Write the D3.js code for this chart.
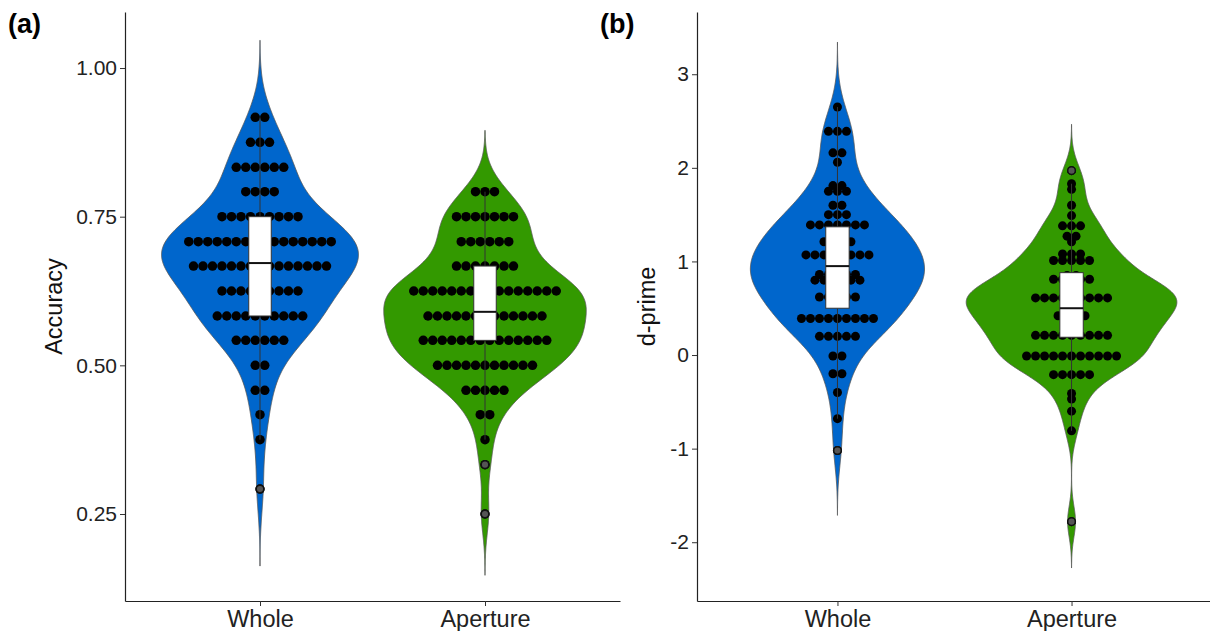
<!DOCTYPE html>
<html>
<head>
<meta charset="utf-8">
<script src="https://cdn.jsdelivr.net/npm/d3@7"></script>
<style>
	body { margin: 0 ; background: #fff ; }
	text { font-family: "Liberation Sans", Arial, sans-serif ; }
</style>
</head>
<body>
<svg class="figure" width="1210" height="631"></svg>
<script>
'use strict' ;

const groups = [ "Whole", "Aperture" ] ;
const fills = [ "#0066CC", "#339900" ] ;

// accuracy: value of each dot row and how many dots sit in it
const accWholeValues = [ 0.917, 0.875, 0.833, 0.792, 0.750, 0.708, 0.667, 0.625, 0.583, 0.542, 0.500, 0.458, 0.417, 0.375, 0.292 ] ;
const accWholeCounts = [ 2, 3, 6, 4, 9, 16, 15, 9, 10, 6, 2, 2, 1, 1, 1 ] ;
const accApertureValues = [ 0.792, 0.750, 0.708, 0.667, 0.625, 0.583, 0.542, 0.500, 0.458, 0.417, 0.375, 0.333, 0.250 ] ;
const accApertureCounts = [ 3, 7, 6, 7, 16, 13, 14, 11, 5, 2, 1, 1, 1 ] ;
// q1, median, q3
const accWholeBox = [ 0.583, 0.672, 0.750 ] ;
const accApertureBox = [ 0.542, 0.590, 0.667 ] ;

// d-prime (the short rows at 0.55-1.30 / 0.29-0.85 are the ones hidden behind the boxes)
const dpWholeValues = [ 2.65, 2.39, 2.16, 2.06, 1.81, 1.75, 1.60, 1.50, 1.39, 1.30, 1.21, 1.14, 1.07, 1.00, 0.95, 0.86, 0.80, 0.72, 0.68, 0.62, 0.55, 0.39, 0.20, -0.01, -0.20, -0.40, -0.68, -1.02 ] ;
const dpWholeCounts = [ 1, 3, 2, 1, 2, 3, 2, 3, 7, 2, 4, 2, 8, 2, 2, 5, 6, 2, 2, 5, 2, 9, 5, 2, 2, 1, 1, 1 ] ;
const dpApertureValues = [ 1.97, 1.83, 1.77, 1.60, 1.49, 1.38, 1.27, 1.21, 1.08, 1.01, 0.85, 0.81, 0.74, 0.70, 0.66, 0.61, 0.55, 0.50, 0.47, 0.42, 0.38, 0.35, 0.29, 0.21, -0.01, -0.21, -0.41, -0.47, -0.60, -0.81, -1.78 ] ;
const dpApertureCounts = [ 1, 1, 1, 1, 1, 3, 2, 1, 3, 5, 2, 5, 2, 2, 2, 9, 2, 2, 2, 4, 2, 2, 2, 9, 11, 5, 1, 1, 1, 1, 1 ] ;
const dpWholeBox = [ 0.50, 0.95, 1.37 ] ;
const dpApertureBox = [ 0.19, 0.50, 0.88 ] ;

const accTicks = [ 0.25, 0.50, 0.75, 1.00 ] ;
const dpTicks = [ -2, -1, 0, 1, 2, 3 ] ;

let geom = {
	top: 12,
	bottom: 601,
	panels: [
		{ tag: "(a)", tagX: 8, title: "Accuracy", titleX: 62, left: 125, right: 620, domain: [ 0.1037, 1.0942 ], dot: 9.5 },
		{ tag: "(b)", tagX: 600, title: "d-prime", titleX: 655, left: 697, right: 1212, domain: [ -2.628, 3.665 ], dot: 9.0 }
	]
} ;

let panelData = [
	{
		ticks: accTicks,
		format: d3.format( ".2f" ),
		series: [
			{ values: accWholeValues, counts: accWholeCounts, box: accWholeBox },
			{ values: accApertureValues, counts: accApertureCounts, box: accApertureBox }
		]
	},
	{
		ticks: dpTicks,
		format: d => String( d ),
		series: [
			{ values: dpWholeValues, counts: dpWholeCounts, box: dpWholeBox },
			{ values: dpApertureValues, counts: dpApertureCounts, box: dpApertureBox }
		]
	}
] ;

// gaussian kernel density, bw.nrd0, tails cut at 3 bandwidths
let kde = function( values ) {
	let sorted = values.slice().sort( d3.ascending ) ;
	let n = sorted.length ;
	let iqr = d3.quantileSorted( sorted, 0.75 ) - d3.quantileSorted( sorted, 0.25 ) ;
	let bw = 0.9 * Math.min( d3.deviation( sorted ), iqr / 1.34 ) * Math.pow( n, -0.2 ) ;
	let lo = sorted[0] - 3 * bw ;
	let hi = sorted[n-1] + 3 * bw ;
	let k = 1 / ( n * bw * Math.sqrt( 2 * Math.PI )) ;
	return d3.range( 512 ).map( i => {
		let y = lo + ( hi - lo ) * i / 511 ;
		return [ y, k * d3.sum( sorted, v => Math.exp( -0.5 * (( y - v ) / bw ) ** 2 )) ] ;
	}) ;
} ;

let svg = d3.select( "svg.figure" ) ;

geom.panels.forEach( ( pg, p ) => {
	let pd = panelData[p] ;
	let x = d3.scalePoint().domain( groups ).range( [ pg.left, pg.right ] ).padding( 0.6 ) ;
	let y = d3.scaleLinear().domain( pg.domain ).range( [ geom.bottom, geom.top ] ) ;
	let step = x.step() ;
	let g = svg.append( "g" ) ;

	// expand rows into single observations
	pd.series.forEach( s => {
		s.all = [] ;
		s.values.forEach( ( v, i ) => { for( let j = 0; j < s.counts[i]; ++j ) s.all.push( v ) ; } ) ;
		s.density = kde( s.all ) ;
	}) ;
	let maxD = d3.max( pd.series, s => d3.max( s.density, d => d[1] )) ;
	let halfW = d3.scaleLinear().domain( [ 0, maxD ] ).range( [ 0, 0.45 * step ] ) ;

	pd.series.forEach( ( s, i ) => {
		let cx = x( groups[i] ) ;
		// violin
		g.append( "path" )
			.datum( s.density )
			.attr( "d", d3.area()
				.y( d => y( d[0] ))
				.x0( d => cx - halfW( d[1] ))
				.x1( d => cx + halfW( d[1] )) )
			.attr( "fill", fills[i] )
			.attr( "stroke", "#555" )
			.attr( "stroke-width", 0.8 ) ;

		// dots, centred in each row
		let dots = [] ;
		s.values.forEach( ( v, r ) => {
			let n = s.counts[r] ;
			for( let j = 0; j < n; ++j ) dots.push( { v: v, off: ( j - ( n - 1 ) / 2 ) * pg.dot } ) ;
		}) ;
		g.append( "g" ).selectAll( "circle" )
			.data( dots )
			.enter()
			.append( "circle" )
			.attr( "cx", d => cx + d.off )
			.attr( "cy", d => y( d.v ))
			.attr( "r", pg.dot / 2 )
			.attr( "fill", "#000" ) ;

		// boxplot
		let [ q1, med, q3 ] = s.box ;
		let iqr = q3 - q1 ;
		let inside = s.all.filter( v => v >= q1 - 1.5 * iqr && v <= q3 + 1.5 * iqr ) ;
		let outliers = s.all.filter( v => v < q1 - 1.5 * iqr || v > q3 + 1.5 * iqr ) ;
		let bw = 0.05 * step ;
		g.append( "line" )
			.attr( "x1", cx ).attr( "x2", cx )
			.attr( "y1", y( d3.max( inside ))).attr( "y2", y( q3 ))
			.attr( "stroke", "#333" ).attr( "stroke-width", 1 ) ;
		g.append( "line" )
			.attr( "x1", cx ).attr( "x2", cx )
			.attr( "y1", y( q1 )).attr( "y2", y( d3.min( inside )))
			.attr( "stroke", "#333" ).attr( "stroke-width", 1 ) ;
		g.append( "rect" )
			.attr( "x", cx - bw )
			.attr( "y", y( q3 ))
			.attr( "width", 2 * bw )
			.attr( "height", y( q1 ) - y( q3 ))
			.attr( "fill", "#fff" )
			.attr( "stroke", "#333" )
			.attr( "stroke-width", 1 ) ;
		g.append( "line" )
			.attr( "x1", cx - bw ).attr( "x2", cx + bw )
			.attr( "y1", y( med )).attr( "y2", y( med ))
			.attr( "stroke", "#111" ).attr( "stroke-width", 2 ) ;
		g.append( "g" ).selectAll( "circle" )
			.data( outliers )
			.enter()
			.append( "circle" )
			.attr( "cx", cx )
			.attr( "cy", d => y( d ))
			.attr( "r", 3.8 )
			.attr( "fill", "#555" )
			.attr( "stroke", "#111" )
			.attr( "stroke-width", 1.5 ) ;
	}) ;

	// axes
	let ya = svg.append( "g" )
		.attr( "transform", "translate(" + pg.left + ",0)" )
		.call( d3.axisLeft( y ).tickValues( pd.ticks ).tickFormat( pd.format ).tickSizeInner( 5 ).tickSizeOuter( 0 ).tickPadding( 3 )) ;
	let xa = svg.append( "g" )
		.attr( "transform", "translate(0," + geom.bottom + ")" )
		.call( d3.axisBottom( x ).tickSizeInner( 5 ).tickSizeOuter( 0 ).tickPadding( 4 )) ;
	[ ya, xa ].forEach( a => {
		a.select( ".domain" ).attr( "stroke", "#222" ).attr( "stroke-width", 1.2 ) ;
		a.selectAll( ".tick line" ).attr( "stroke", "#333" ) ;
		a.selectAll( ".tick text" ).attr( "fill", "#222" ).attr( "font-family", "Liberation Sans, Arial, sans-serif" ) ;
	}) ;
	ya.selectAll( ".tick text" ).attr( "font-size", "21px" ) ;
	xa.selectAll( ".tick text" ).attr( "font-size", "23.5px" ) ;

	svg.append( "text" )
		.attr( "transform", "translate(" + pg.titleX + "," + (( geom.top + geom.bottom ) / 2 ) + ") rotate(-90)" )
		.attr( "text-anchor", "middle" )
		.attr( "font-size", "23.5px" )
		.attr( "fill", "#111" )
		.text( pg.title ) ;

	svg.append( "text" )
		.attr( "x", pg.tagX )
		.attr( "y", 33 )
		.attr( "font-size", "27px" )
		.attr( "font-weight", "bold" )
		.attr( "fill", "#000" )
		.text( pg.tag ) ;
}) ;
</script>
</body>
</html>
